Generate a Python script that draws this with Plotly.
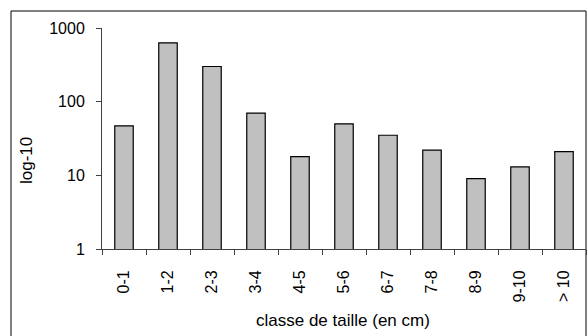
import plotly.graph_objects as go

categories = ["0-1", "1-2", "2-3", "3-4", "4-5", "5-6", "6-7", "7-8", "8-9", "9-10", "> 10"]
values = [47, 630, 300, 70, 18, 50, 35, 22, 9, 13, 21]
y_ticks = [1, 10, 100, 1000]
y_ticklabels = ["1", "10", "100", "1000"]

W, H = 587, 336
L, R, T, B = 102, 1, 28, 87
pw = W - L - R
ph = H - T - B
FONT = "Liberation Sans, Arial, sans-serif"

fig = go.Figure(go.Bar(
    x=categories, y=values,
    marker=dict(color="#C0C0C0", line=dict(color="#000000", width=1.2)),
))

fig.update_layout(
    width=W, height=H,
    margin=dict(l=L, r=R, t=T, b=B),
    paper_bgcolor="white", plot_bgcolor="white",
    bargap=0.58,
    showlegend=False,
    font=dict(family=FONT, size=16, color="#000000"),
)
fig.update_xaxes(
    type="category",
    showline=True, linecolor="#404040", linewidth=1,
    ticks="outside", ticklen=5, tickcolor="#404040", tickson="boundaries",
    tickangle=-90, showgrid=False, ticklabelstandoff=14,
)
fig.update_yaxes(
    type="log", range=[0, 3],
    tickvals=y_ticks, ticktext=y_ticklabels,
    showline=True, linecolor="#404040", linewidth=1,
    ticks="outside", ticklen=5, tickcolor="#404040",
    showgrid=False, zeroline=False, ticklabelstandoff=8,
)

# axis titles
fig.add_annotation(text="classe de taille (en cm)", xref="paper", yref="paper",
                   x=(343 - L) / pw, y=(H - B - 320) / ph, showarrow=False,
                   xanchor="center", yanchor="middle", font=dict(size=17))
fig.add_annotation(text="log-10", xref="paper", yref="paper",
                   x=(26 - L) / pw, y=(H - B - 161) / ph, showarrow=False, textangle=-90,
                   xanchor="center", yanchor="middle", font=dict(size=17))

# outer chart border
fig.add_shape(type="rect", xref="paper", yref="paper",
              x0=(11 - L) / pw, x1=(586 - L) / pw,
              y0=(H - B - 345) / ph, y1=(H - B - 11) / ph,
              line=dict(color="#000000", width=1), layer="below")

fig.write_html("out.html", config={"displayModeBar": False},
               post_script="document.body.style.margin='0px';")
